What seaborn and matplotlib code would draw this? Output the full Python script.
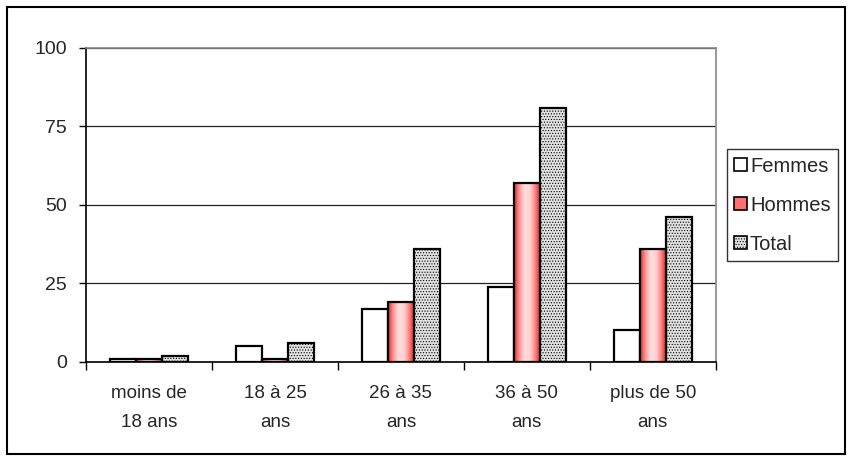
import numpy as np
import pandas as pd
import matplotlib
matplotlib.use("Agg")
import matplotlib.pyplot as plt
from matplotlib.patches import Rectangle, Patch
from matplotlib.colors import LinearSegmentedColormap
import seaborn as sns

categories = ["moins de\n18 ans", "18 à 25\nans", "26 à 35\nans", "36 à 50\nans", "plus de 50\nans"]
series = ["Femmes", "Hommes", "Total"]
femmes = [1, 5, 17, 24, 10]
hommes = [1, 1, 19, 57, 36]
total = [2, 6, 36, 81, 46]
y_ticks = [0, 25, 50, 75, 100]


def main():
    df = pd.DataFrame({
        "cat": categories * 3,
        "serie": [s for s in series for _ in categories],
        "val": femmes + hommes + total,
    })

    sns.set_style("white")
    plt.rcParams["font.family"] = ["Liberation Sans", "DejaVu Sans"]
    plt.rcParams["hatch.color"] = "#a8a8a8"
    plt.rcParams["hatch.linewidth"] = 0.5

    fig = plt.figure(figsize=(8.53, 4.61), dpi=100)
    ax = fig.add_axes([0.101, 0.215, 0.738, 0.681])

    palette = {"Femmes": "white", "Hommes": "#ffb3b3", "Total": "#e2e2e2"}
    sns.barplot(data=df, x="cat", y="val", hue="serie", palette=palette,
                edgecolor="black", linewidth=1.6, width=0.62, ax=ax,
                legend=False, zorder=3)

    # red gradient for Hommes, dotted look for Total
    red_cmap = LinearSegmentedColormap.from_list(
        "rg", ["#e82828", "#ff9a9a", "#ffdede", "#ffd2d2", "#ff8080", "#d81818"])
    grad = np.linspace(0, 1, 64).reshape(1, -1)
    n = len(categories)
    for i, p in enumerate(ax.patches):
        s = i // n
        if s == 1:
            x0, y0 = p.get_x(), p.get_y()
            w, h = p.get_width(), p.get_height()
            im = ax.imshow(grad, cmap=red_cmap, aspect="auto",
                           extent=[x0, x0 + w, y0, y0 + h], zorder=3.5)
            im.set_clip_path(p)
            p.set_facecolor("none")
            p.set_zorder(4)
        elif s == 2:
            p.set_hatch("......")
    ax.set_xlim(-0.5, n - 0.5)
    ax.set_ylim(0, 100)

    ax.set_yticks(y_ticks)
    ax.yaxis.grid(True, color="#222222", linewidth=0.9, zorder=0)
    ax.set_axisbelow(True)
    ax.tick_params(axis="y", direction="out", length=5, width=1, color="black",
                   left=True, labelsize=14, pad=9)
    ax.set_xticks(range(n))
    ax.set_xticklabels(categories, fontsize=13.5, linespacing=1.85)
    ax.set_xticks(np.arange(-0.5, n, 1), minor=True)
    ax.tick_params(axis="x", which="major", length=0, pad=17)
    ax.tick_params(axis="x", which="minor", direction="out", length=6,
                   width=1, color="black", bottom=True)
    ax.set_xlabel("")
    ax.set_ylabel("")

    for side in ["left", "bottom"]:
        ax.spines[side].set_color("black")
        ax.spines[side].set_linewidth(1.2)
    for side in ["top", "right"]:
        ax.spines[side].set_color("#888888")
        ax.spines[side].set_linewidth(1.2)

    handles = [
        Patch(facecolor="white", edgecolor="black", linewidth=1.2),
        Patch(facecolor="#ff7070", edgecolor="black", linewidth=1.2),
        Patch(facecolor="#e2e2e2", edgecolor="black", linewidth=1.2, hatch="......"),
    ]
    leg = fig.legend(handles, series, loc="center left",
                     bbox_to_anchor=(0.852, 0.555), frameon=True, fontsize=14.5,
                     handlelength=0.65, handleheight=0.65, handletextpad=0.15,
                     labelspacing=1.0, borderpad=0.35, borderaxespad=0,
                     fancybox=False)
    leg.get_frame().set_edgecolor("black")
    leg.get_frame().set_linewidth(1.0)

    fig.patches.append(Rectangle((0.008, 0.015), 0.983, 0.97,
                                 transform=fig.transFigure, fill=False,
                                 edgecolor="black", linewidth=1.5))

    fig.savefig("out.png", dpi=100)


if __name__ == "__main__":
    main()
